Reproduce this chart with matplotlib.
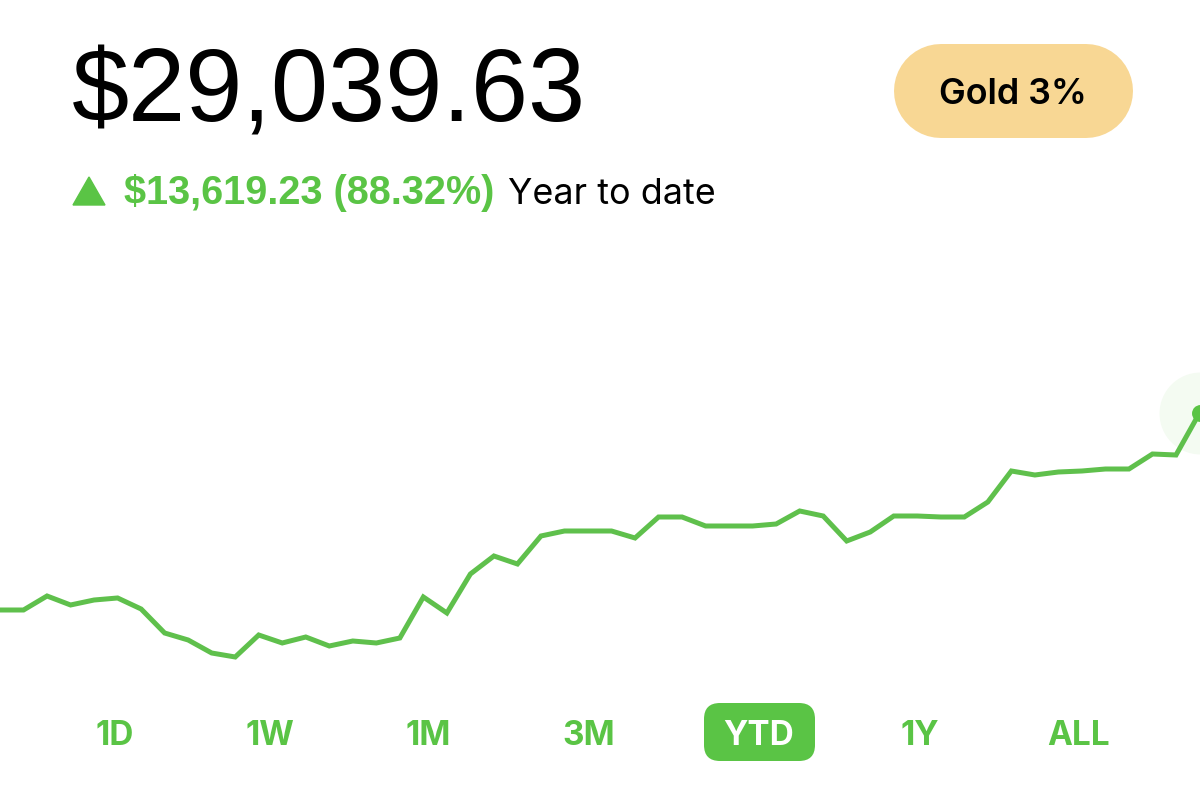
import matplotlib
matplotlib.use("Agg")
import matplotlib.pyplot as plt
from matplotlib.patches import FancyBboxPatch, Polygon

# portfolio value per step
values = [
    15420, 15420, 16388, 15766, 16111, 16250, 15489, 13830, 13346, 12447,
    12171, 13692, 13139, 13553, 12931, 13277, 13139, 13484, 16319, 15213,
    17909, 19153, 18600, 20536, 20881, 20881, 20881, 20397, 21849, 21849,
    21227, 21227, 21227, 21365, 22264, 21918, 20190, 20812, 21918, 21918,
    21849, 21849, 22886, 25029, 24753, 24960, 25029, 25167, 25167, 26204,
    26135, 29039,
]
range_labels = ["1D", "1W", "1M", "3M", "YTD", "1Y", "ALL"]
range_centers = [115, 270, 428, 589, 759, 920, 1079]
selected = "YTD"

balance = "$29,039.63"
change = "$13,619.23 (88.32%)"
period = "Year to date"
badge = "Gold 3%"

GREEN = "#5ac445"
LINE = "#5fc04c"
FONT = "Liberation Sans"

fig = plt.figure(figsize=(12, 8), dpi=100, facecolor="white")

# --- chart, edge to edge ---
ax = fig.add_axes([0, 0, 1, 1])
ax.set_xlim(0, 1200 / 23.52)
ax.set_ylim(2285, 57589)
ax.axis("off")
last = len(values) - 1
ax.scatter([last], [values[last]], s=3481, color="#f4fbf2", linewidths=0, zorder=1)
ax.plot(range(len(values)), values, color=LINE, linewidth=3.6,
        solid_joinstyle="miter", zorder=3)
ax.scatter([last], [values[last]], s=149, color=GREEN, linewidths=0, zorder=4)

# --- everything else in pixel coords ---
ui = fig.add_axes([0, 0, 1, 1], facecolor="none")
ui.set_xlim(0, 1200)
ui.set_ylim(800, 0)
ui.axis("off")

ui.text(72, 95, balance, fontsize=74, family=FONT, color="black",
        va="center", ha="left")
ui.add_patch(Polygon([(73, 205), (105, 205), (89, 177)], color=GREEN))
ui.text(124, 193, change, fontsize=28.5, family=FONT, weight="bold",
        color=GREEN, va="center", ha="left")
ui.text(508, 194, period, fontsize=25.8, family="Inter", color="black",
        va="center", ha="left")

# round caps give a true stadium shape, 94 px tall
ui.plot([941, 1086], [91, 91], color="#f8d794", linewidth=94 * 0.72,
        solid_capstyle="round")
ui.text(1013, 94, badge, fontsize=25.8, family="Inter", weight="semibold",
        color="black", va="center", ha="center")

for label, cx in zip(range_labels, range_centers):
    if label == selected:
        ui.add_patch(FancyBboxPatch((704, 703), 111, 58,
                                    boxstyle="round,pad=0,rounding_size=16",
                                    linewidth=0, facecolor=GREEN))
    ui.text(cx, 736, label, fontsize=24, family="Inter", weight="bold",
            color="white" if label == selected else GREEN,
            va="center", ha="center")

fig.savefig("out.png", dpi=100)
